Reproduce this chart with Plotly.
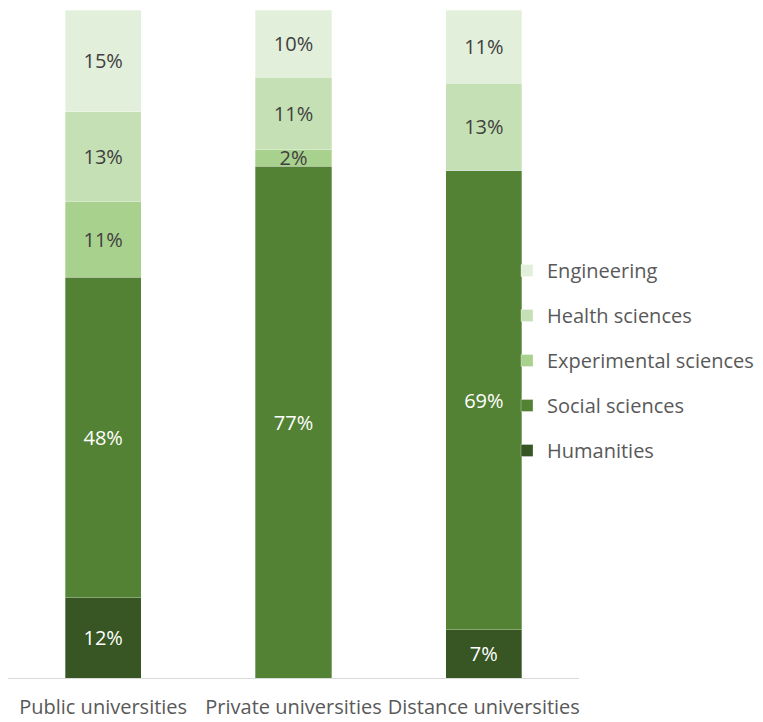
import plotly.graph_objects as go

categories = ["Public universities", "Private universities", "Distance universities"]
series_names = ["Humanities", "Social sciences", "Experimental sciences", "Health sciences", "Engineering"]
humanities = [12.0, 0.0, 7.2]
social = [48.0, 76.6, 68.8]
experimental = [11.4, 2.5, 0.0]
health = [13.4, 10.8, 13.0]
engineering = [15.2, 10.1, 11.0]
series_values = [humanities, social, experimental, health, engineering]
colors = ["#375623", "#548235", "#A9D18E", "#C5E0B4", "#E2EFDA"]
text_colors = ["#FFFFFF", "#FFFFFF", "#404040", "#404040", "#404040"]

FONT = "Open Sans"

fig = go.Figure()
n = len(series_names)
for i, (name, vals) in enumerate(zip(series_names, series_values)):
    fig.add_trace(go.Bar(
        x=categories,
        y=vals,
        name=name,
        legendgroup=name,
        legendrank=n - i,
        marker=dict(color=colors[i], line=dict(color="rgba(255,255,255,0.6)", width=0.5)),
        text=[f"{v:.0f}%" if v > 0 else "" for v in vals],
        textposition="inside",
        insidetextanchor="middle",
        textangle=0,
        textfont=dict(family=FONT, size=20, color=text_colors[i]),
        hoverinfo="skip",
    ))

fig.update_layout(
    barmode="stack",
    bargap=0.6,
    width=763,
    height=722,
    margin=dict(l=8, r=184, t=10, b=44, autoexpand=False),
    paper_bgcolor="white",
    plot_bgcolor="white",
    font=dict(family=FONT, size=20, color="#595959"),
    uniformtext=dict(minsize=20, mode="show"),
    legend=dict(
        traceorder="grouped",
        tracegroupgap=16,
        xref="container",
        yref="container",
        x=507 / 763,
        xanchor="left",
        y=1 - 251 / 722,
        yanchor="top",
        font=dict(family=FONT, size=20, color="#595959"),
        bgcolor="rgba(0,0,0,0)",
        itemclick=False,
    ),
    xaxis=dict(
        showline=True,
        linecolor="#D9D9D9",
        linewidth=1,
        ticks="",
        tickangle=0,
        ticklabelstandoff=11,
        tickfont=dict(family=FONT, size=20, color="#595959"),
        showgrid=False,
        fixedrange=True,
    ),
    yaxis=dict(
        range=[0, 100],
        visible=False,
        showgrid=False,
        fixedrange=True,
    ),
)

fig.write_html("out.html")
